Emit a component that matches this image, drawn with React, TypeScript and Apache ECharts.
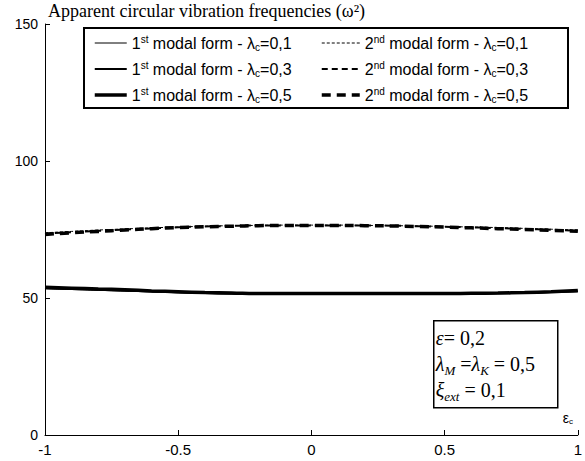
import React, { useEffect, useRef } from "react";
import * as echarts from "echarts";

const xValues = [-1, -0.9, -0.8, -0.7, -0.6, -0.5, -0.4, -0.3, -0.2, -0.1, 0, 0.1, 0.2, 0.3, 0.4, 0.5, 0.6, 0.7, 0.8, 0.9, 1];

const mode1_l01 = [53.4, 53.1, 52.8, 52.5, 52.2, 51.9, 51.7, 51.5, 51.4, 51.4, 51.4, 51.4, 51.4, 51.4, 51.4, 51.4, 51.5, 51.6, 51.8, 52.0, 52.3];
const mode1_l03 = [53.6, 53.3, 53.0, 52.7, 52.4, 52.1, 51.8, 51.6, 51.5, 51.5, 51.5, 51.5, 51.5, 51.5, 51.5, 51.5, 51.6, 51.7, 51.9, 52.2, 52.5];
const mode1_l05 = [53.9, 53.6, 53.3, 53.0, 52.6, 52.3, 52.0, 51.8, 51.6, 51.6, 51.6, 51.6, 51.6, 51.6, 51.6, 51.6, 51.7, 51.8, 52.0, 52.3, 52.7];

const mode2_l01 = [73.8, 74.3, 74.8, 75.2, 75.6, 75.9, 76.2, 76.4, 76.5, 76.6, 76.6, 76.6, 76.5, 76.4, 76.3, 76.1, 75.9, 75.7, 75.4, 75.1, 74.8];
const mode2_l03 = [73.5, 74.0, 74.5, 75.0, 75.4, 75.8, 76.1, 76.3, 76.5, 76.5, 76.5, 76.5, 76.5, 76.4, 76.2, 76.0, 75.8, 75.5, 75.2, 74.9, 74.6];
const mode2_l05 = [73.2, 73.8, 74.3, 74.8, 75.3, 75.7, 76.0, 76.2, 76.4, 76.5, 76.5, 76.5, 76.4, 76.3, 76.1, 75.9, 75.6, 75.3, 75.0, 74.7, 74.4];

const seriesNames = [
  "1st modal form - λc=0,1",
  "1st modal form - λc=0,3",
  "1st modal form - λc=0,5",
  "2nd modal form - λc=0,1",
  "2nd modal form - λc=0,3",
  "2nd modal form - λc=0,5",
];
const seriesData = [mode1_l01, mode1_l03, mode1_l05, mode2_l01, mode2_l03, mode2_l05];

const xTicks = { min: -1, max: 1, interval: 0.5 };
const yTicks = { min: 0, max: 150, interval: 50 };

const titleText = "Apparent circular vibration frequencies (ω²)";

function legendFormatter(name: string): string {
  const m = name.match(/^(\d)(st|nd) modal form - λc=(.*)$/);
  if (!m) return name;
  return `${m[1]}{sup|${m[2]}} modal form - λ{sub|c}=${m[3]}`;
}

export default function App() {
  const ref = useRef<HTMLDivElement>(null);
  useEffect(() => {
    if (!ref.current) return;
    const chart = echarts.init(ref.current, null, { renderer: "svg" });
    const widths = [1, 2, 3.5, 1, 2, 3.5];
    const dashes: any[] = ["solid", "solid", "solid", [3, 2], [6, 4], [9, 6]];
    const series = seriesNames.map((name, i) => ({
      name,
      type: "line",
      data: xValues.map((x, j) => [x, seriesData[i][j]]),
      showSymbol: false,
      symbol: "none",
      smooth: true,
      lineStyle: { color: "#000", width: widths[i], type: dashes[i] },
      itemStyle: { color: "#000" },
      z: 2,
    }));
    const sans = "Liberation Sans, Arial, sans-serif";
    const serif = "Liberation Serif, Times New Roman, serif";
    const legendText = {
      fontFamily: sans,
      fontSize: 16,
      color: "#000",
      lineHeight: 18,
      rich: {
        sup: { fontSize: 10, verticalAlign: "top", lineHeight: 10, fontFamily: sans, color: "#000" },
        sub: { fontSize: 10, verticalAlign: "bottom", lineHeight: 10, fontFamily: sans, color: "#000" },
      },
    };
    const legendCommon = {
      orient: "vertical",
      top: 29,
      itemHeight: 14,
      itemGap: 8,
      formatter: legendFormatter,
      textStyle: legendText,
      selectedMode: false,
      itemStyle: { opacity: 0 },
      z: 20,
    };
    const legendItems = (from: number, to: number) =>
      seriesNames.slice(from, to).map((name, k) => ({
        name,
        lineStyle: { color: "#000", width: widths[from + k], type: dashes[from + k] },
        itemStyle: { opacity: 0 },
      }));
    chart.setOption({
      animation: false,
      backgroundColor: "#fff",
      grid: { left: 45, right: 7, top: 24, bottom: 26, containLabel: false },
      xAxis: {
        type: "value",
        min: xTicks.min,
        max: xTicks.max,
        interval: xTicks.interval,
        name: "ε{sub|c}",
        nameLocation: "end",
        nameGap: -10,
        nameTextStyle: {
          fontFamily: sans,
          fontSize: 14,
          color: "#000",
          verticalAlign: "bottom",
          align: "center",
          padding: [0, 0, 10, 0],
          rich: { sub: { fontSize: 8, verticalAlign: "bottom", color: "#000" } },
        },
        axisLine: { onZero: false, lineStyle: { color: "#000", width: 1 } },
        axisTick: { inside: true, length: 5, lineStyle: { color: "#000" } },
        axisLabel: { color: "#000", fontSize: 15, fontFamily: sans, margin: 7 },
        splitLine: { show: false },
      },
      yAxis: {
        type: "value",
        min: yTicks.min,
        max: yTicks.max,
        interval: yTicks.interval,
        name: titleText,
        nameLocation: "end",
        nameGap: 4,
        nameTextStyle: {
          fontFamily: serif,
          fontSize: 18,
          color: "#000",
          align: "left",
          padding: [0, 0, 0, 3],
        },
        axisLine: { show: true, onZero: false, lineStyle: { color: "#000", width: 1 } },
        axisTick: { show: true, inside: true, length: 5, lineStyle: { color: "#000" } },
        axisLabel: { color: "#000", fontSize: 14, fontFamily: sans, margin: 7 },
        splitLine: { show: false },
      },
      legend: [
        { ...legendCommon, data: legendItems(0, 3), left: 88, itemWidth: 32 },
        { ...legendCommon, data: legendItems(3, 6), left: 315, itemWidth: 38 },
      ],
      graphic: [
        {
          type: "rect",
          left: 83,
          top: 27,
          shape: { width: 484, height: 80 },
          style: { fill: "#fff", stroke: "#000", lineWidth: 2 },
          z: 3,
        },
        {
          type: "group",
          left: 433,
          top: 320,
          z: 10,
          children: [
            {
              type: "rect",
              shape: { x: 0, y: 0, width: 124, height: 87 },
              style: { fill: "#fff", stroke: "#000", lineWidth: 1.5 },
            },
            {
              type: "text",
              x: 2,
              y: 4,
              style: {
                text: "{i|ε}= 0,2\n{i|λ}{is|M} ={i|λ}{is|K} = 0,5\n{i|ξ}{is|ext} = 0,1",
                fontFamily: serif,
                fontSize: 20,
                lineHeight: 26,
                fill: "#000",
                rich: {
                  i: { fontFamily: serif, fontStyle: "italic", fontSize: 20, lineHeight: 26, fill: "#000", color: "#000" },
                  is: { fontFamily: serif, fontStyle: "italic", fontSize: 13, verticalAlign: "bottom", lineHeight: 17, fill: "#000", color: "#000" },
                },
              },
            },
          ],
        },
      ],
      series,
    });
    return () => chart.dispose();
  }, []);
  return <div ref={ref} style={{ position: "fixed", left: 0, top: 0, width: 585, height: 461 }} />;
}
